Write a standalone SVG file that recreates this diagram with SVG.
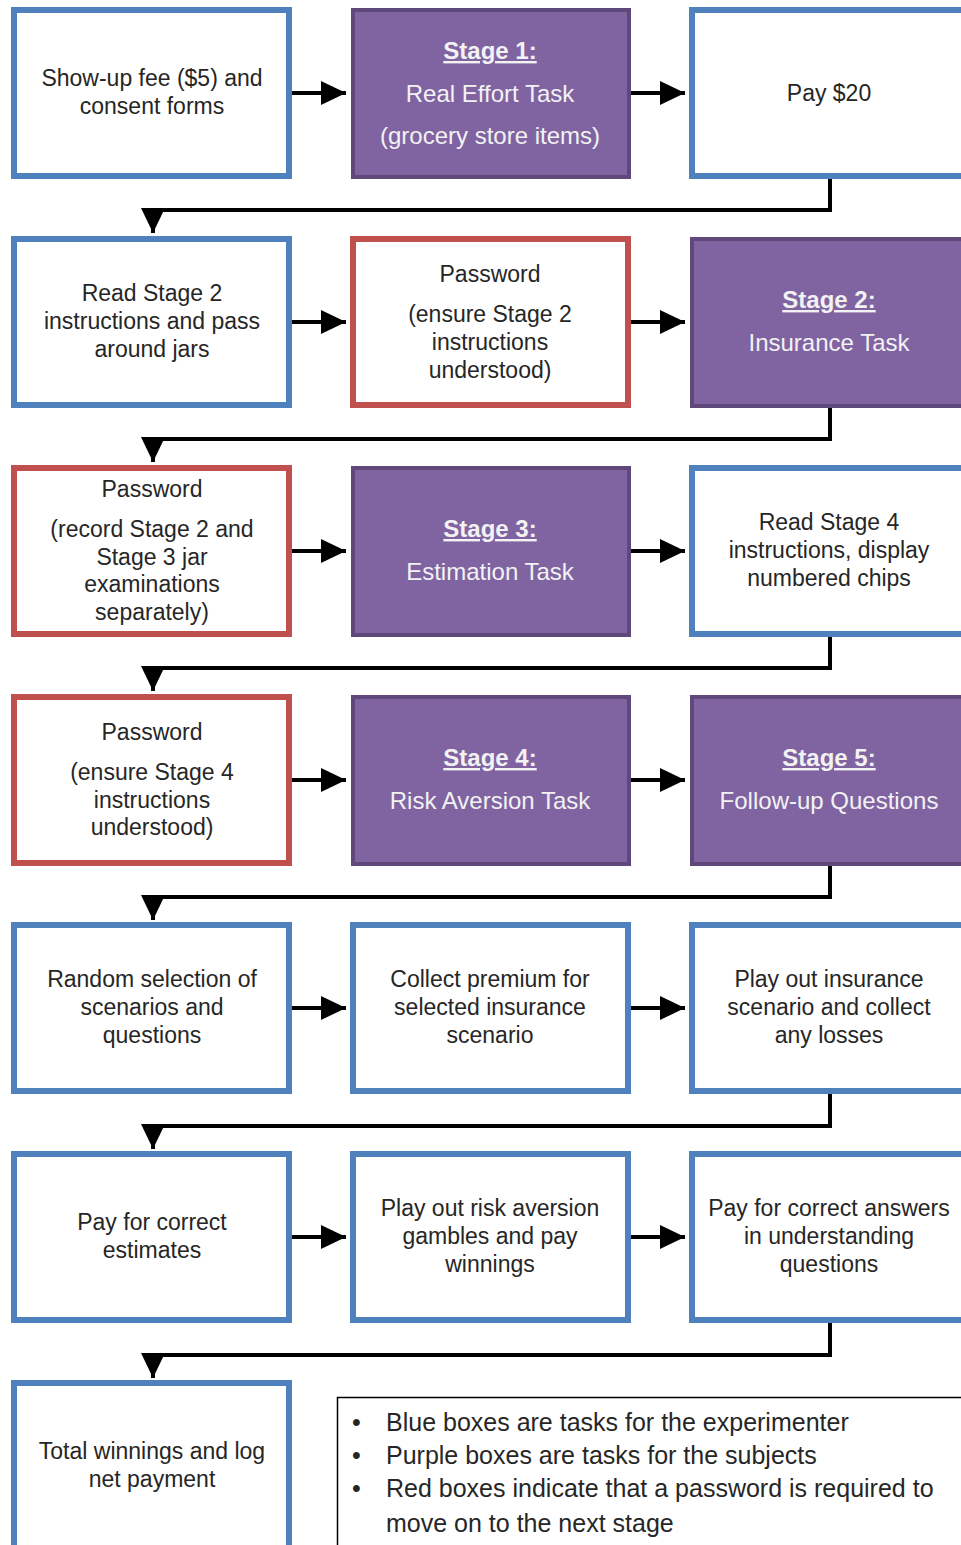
<svg xmlns="http://www.w3.org/2000/svg" width="961" height="1545" viewBox="0 0 961 1545">
<defs>
<style>
.blue{fill:#fff;stroke:#4F81BD;stroke-width:6}
.red{fill:#fff;stroke:#C0504D;stroke-width:6}
.purple{fill:#8064A2;stroke:#5F497A;stroke-width:4}
.t{font-family:"Liberation Sans",Arial,sans-serif;font-size:23px;fill:#262626;text-anchor:middle}
.p{font-family:"Liberation Sans",Arial,sans-serif;font-size:24px;fill:#F2F2F2;text-anchor:middle}
.h{font-weight:bold;text-decoration:underline}
.c{fill:none;stroke:#000;stroke-width:4}
.lg{font-family:"Liberation Sans",Arial,sans-serif;font-size:25px;fill:#262626}
</style>
<marker id="ah" markerUnits="userSpaceOnUse" markerWidth="26" markerHeight="24" refX="25" refY="12" orient="auto">
<path d="M0,0 L25,12 L0,24 z" fill="#000"/>
</marker>
</defs>

<g id="connectors">
<path class="c" d="M292 93 H346" marker-end="url(#ah)"/>
<path class="c" d="M631 93 H685" marker-end="url(#ah)"/>
<path class="c" d="M830 179 V210 H153 V233" marker-end="url(#ah)"/>
<path class="c" d="M292 322 H346" marker-end="url(#ah)"/>
<path class="c" d="M631 322 H685" marker-end="url(#ah)"/>
<path class="c" d="M830 408 V439 H153 V462" marker-end="url(#ah)"/>
<path class="c" d="M292 551 H346" marker-end="url(#ah)"/>
<path class="c" d="M631 551 H685" marker-end="url(#ah)"/>
<path class="c" d="M830 637 V668 H153 V691" marker-end="url(#ah)"/>
<path class="c" d="M292 780 H346" marker-end="url(#ah)"/>
<path class="c" d="M631 780 H685" marker-end="url(#ah)"/>
<path class="c" d="M830 866 V897 H153 V920" marker-end="url(#ah)"/>
<path class="c" d="M292 1008 H346" marker-end="url(#ah)"/>
<path class="c" d="M631 1008 H685" marker-end="url(#ah)"/>
<path class="c" d="M830 1094 V1126 H153 V1149" marker-end="url(#ah)"/>
<path class="c" d="M292 1237 H346" marker-end="url(#ah)"/>
<path class="c" d="M631 1237 H685" marker-end="url(#ah)"/>
<path class="c" d="M830 1323 V1355 H153 V1378" marker-end="url(#ah)"/>
</g>

<g id="n1"><rect class="blue" x="14" y="10" width="275" height="166"/>
<text class="t" x="152" y="86">Show-up fee ($5) and</text>
<text class="t" x="152" y="114">consent forms</text></g>

<g id="n2"><rect class="purple" x="353" y="10" width="276" height="167"/>
<text class="p h" x="490" y="59">Stage 1:</text>
<text class="p" x="490" y="102">Real Effort Task</text>
<text class="p" x="490" y="144">(grocery store items)</text></g>

<g id="n3"><rect class="blue" x="692" y="10" width="290" height="166"/>
<text class="t" x="829" y="101">Pay $20</text></g>

<g id="n4"><rect class="blue" x="14" y="239" width="275" height="166"/>
<text class="t" x="152" y="301">Read Stage 2</text>
<text class="t" x="152" y="329">instructions and pass</text>
<text class="t" x="152" y="357">around jars</text></g>

<g id="n5"><rect class="red" x="353" y="239" width="275" height="166"/>
<text class="t" x="490" y="282">Password</text>
<text class="t" x="490" y="322">(ensure Stage 2</text>
<text class="t" x="490" y="350">instructions</text>
<text class="t" x="490" y="378">understood)</text></g>

<g id="n6"><rect class="purple" x="692" y="239" width="290" height="167"/>
<text class="p h" x="829" y="308">Stage 2:</text>
<text class="p" x="829" y="351">Insurance Task</text></g>

<g id="n7"><rect class="red" x="14" y="468" width="275" height="166"/>
<text class="t" x="152" y="497">Password</text>
<text class="t" x="152" y="537">(record Stage 2 and</text>
<text class="t" x="152" y="565">Stage 3 jar</text>
<text class="t" x="152" y="592">examinations</text>
<text class="t" x="152" y="620">separately)</text></g>

<g id="n8"><rect class="purple" x="353" y="468" width="276" height="167"/>
<text class="p h" x="490" y="537">Stage 3:</text>
<text class="p" x="490" y="580">Estimation Task</text></g>

<g id="n9"><rect class="blue" x="692" y="468" width="290" height="166"/>
<text class="t" x="829" y="530">Read Stage 4</text>
<text class="t" x="829" y="558">instructions, display</text>
<text class="t" x="829" y="586">numbered chips</text></g>

<g id="n10"><rect class="red" x="14" y="697" width="275" height="166"/>
<text class="t" x="152" y="740">Password</text>
<text class="t" x="152" y="780">(ensure Stage 4</text>
<text class="t" x="152" y="808">instructions</text>
<text class="t" x="152" y="835">understood)</text></g>

<g id="n11"><rect class="purple" x="353" y="697" width="276" height="167"/>
<text class="p h" x="490" y="766">Stage 4:</text>
<text class="p" x="490" y="809">Risk Aversion Task</text></g>

<g id="n12"><rect class="purple" x="692" y="697" width="290" height="167"/>
<text class="p h" x="829" y="766">Stage 5:</text>
<text class="p" x="829" y="809">Follow-up Questions</text></g>

<g id="n13"><rect class="blue" x="14" y="925" width="275" height="166"/>
<text class="t" x="152" y="987">Random selection of</text>
<text class="t" x="152" y="1015">scenarios and</text>
<text class="t" x="152" y="1043">questions</text></g>

<g id="n14"><rect class="blue" x="353" y="925" width="275" height="166"/>
<text class="t" x="490" y="987">Collect premium for</text>
<text class="t" x="490" y="1015">selected insurance</text>
<text class="t" x="490" y="1043">scenario</text></g>

<g id="n15"><rect class="blue" x="692" y="925" width="290" height="166"/>
<text class="t" x="829" y="987">Play out insurance</text>
<text class="t" x="829" y="1015">scenario and collect</text>
<text class="t" x="829" y="1043">any losses</text></g>

<g id="n16"><rect class="blue" x="14" y="1154" width="275" height="166"/>
<text class="t" x="152" y="1230">Pay for correct</text>
<text class="t" x="152" y="1258">estimates</text></g>

<g id="n17"><rect class="blue" x="353" y="1154" width="275" height="166"/>
<text class="t" x="490" y="1216">Play out risk aversion</text>
<text class="t" x="490" y="1244">gambles and pay</text>
<text class="t" x="490" y="1272">winnings</text></g>

<g id="n18"><rect class="blue" x="692" y="1154" width="290" height="166"/>
<text class="t" x="829" y="1216">Pay for correct answers</text>
<text class="t" x="829" y="1244">in understanding</text>
<text class="t" x="829" y="1272">questions</text></g>

<g id="n19"><rect class="blue" x="14" y="1383" width="275" height="200"/>
<text class="t" x="152" y="1459">Total winnings and log</text>
<text class="t" x="152" y="1487">net payment</text></g>

<g id="legend">
<rect x="337.5" y="1397.5" width="650" height="200" fill="#fff" stroke="#000" stroke-width="1.5"/>
<text class="lg" x="352" y="1431">•</text>
<text class="lg" x="386" y="1431">Blue boxes are tasks for the experimenter</text>
<text class="lg" x="352" y="1464">•</text>
<text class="lg" x="386" y="1464">Purple boxes are tasks for the subjects</text>
<text class="lg" x="352" y="1497">•</text>
<text class="lg" x="386" y="1497">Red boxes indicate that a password is required to</text>
<text class="lg" x="386" y="1532">move on to the next stage</text>
</g>
</svg>
